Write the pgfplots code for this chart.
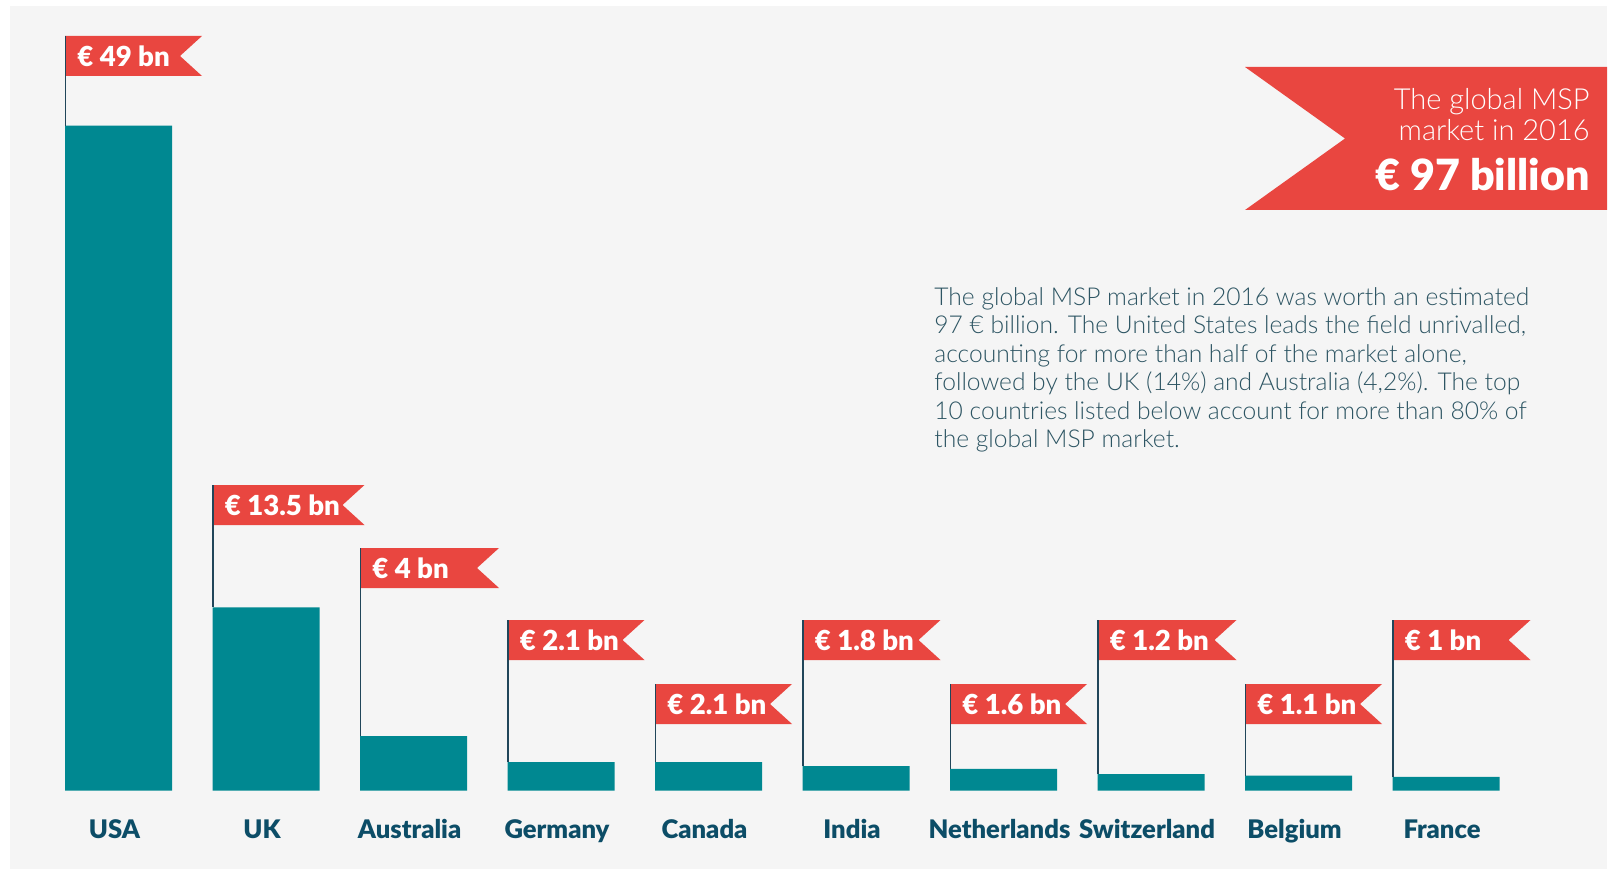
\documentclass[border=0pt]{standalone}
\usepackage{fontspec}
\setmainfont{Lato}
\newfontfamily\lightfont{Lato Light}
\newfontfamily\heavyfont{Lato Black}
\usepackage{pgfplots}
\pgfplotsset{compat=1.18}

\definecolor{bg}{HTML}{F5F5F5}
\definecolor{flagred}{HTML}{E94640}
\definecolor{barteal}{HTML}{008891}
\definecolor{labeldark}{HTML}{0C4D67}
\definecolor{bodytext}{HTML}{2D5563}
\definecolor{pole}{HTML}{21465A}

\begin{document}
\begin{tikzpicture}
% 1 px of the reference = 0.5pt
\fill[bg] (5pt,0) rectangle (803.5pt,431.5pt);

\begin{axis}[at={(0,0)},anchor=south west,scale only axis,
  width=804.5pt,height=434.5pt,
  xmin=-0.8034,xmax=10.1051,ymin=-5.784,ymax=58.25,
  axis line style={draw=none},major tick length=0pt,
  ybar=0pt,bar width=53.5pt,
  ytick=\empty,xtick=data,
  xticklabels={USA,UK,Australia,Germany,Canada,India,Netherlands,Switzerland,Belgium,France},
  xticklabel style={font=\heavyfont\fontsize{12.8}{12.8}\selectfont,text=labeldark,anchor=base,yshift=15.3pt,xshift=-2pt},
  clip=false]
\addplot[fill=barteal,draw=none] coordinates {(0,49) (1,13.5) (2,4) (3,2.1) (4,2.1) (5,1.8) (6,1.6) (7,1.2) (8,1.1) (9,1)};
\end{axis}

\begin{scope}[shift={(0pt,434.5pt)},x=0.5pt,y=-0.5pt]
% flags: index / label / flag top / flag width / value
\foreach \i/\t/\top/\w/\v in {0/49/36/137/49,1/13.5/485/152/13.5,2/4/548/139/4,3/2.1/620/137/2.1,4/2.1/684/137/2.1,5/1.8/620/138/1.8,6/1.6/684/137/1.6,7/1.2/620/139/1.2,8/1.1/684/137/1.1,9/1/620/138/1}{
  \pgfmathsetmacro\L{65+147.5*\i}
  \pgfmathsetmacro\B{790.5-13.571*\v}
  \fill[flagred] (\L,\top) -- ++(\w,0) -- ++(-22,20) -- ++(22,20) -- ++(-\w,0) -- cycle;
  \draw[pole,line width=0.75pt] (\L+0.5,\top) -- (\L+0.5,\B);
  \node[anchor=base west,inner sep=0,text=white,font=\heavyfont\fontsize{13.8}{13.8}\selectfont] at (\L+12,\top+30.5) {€ \t\ bn};
}
% banner
\fill[flagred] (1245,67) -- (1607,67) -- (1607,210) -- (1245,210) -- (1345,138.5) -- cycle;
\node[anchor=base east,inner sep=0,text=white,font=\lightfont\fontsize{14.5}{14.5}\selectfont] at (1590,110) {The global MSP};
\node[anchor=base east,inner sep=0,text=white,font=\lightfont\fontsize{14.5}{14.5}\selectfont] at (1590,141) {market in 2016};
\node[anchor=base east,inner sep=0,text=white,font=\heavyfont\fontsize{21.5}{21.5}\selectfont] at (1590,191) {€ 97 billion};
% paragraph
\foreach \n/\s in {0/{The global MSP market in 2016 was worth an estimated},
  1/{97 € billion. The United States leads the field unrivalled,},
  2/{accounting for more than half of the market alone,},
  3/{followed by the UK (14\%) and Australia (4,2\%). The top},
  4/{10 countries listed below account for more than 80\% of},
  5/{the global MSP market.}}{
  \node[anchor=base west,inner sep=0,text=bodytext,font=\lightfont\fontsize{12.3}{12.3}\selectfont] at (934,305+28.5*\n) {\s};
}
\end{scope}
\pgfresetboundingbox
\useasboundingbox (0,0) rectangle (804.5pt,434.5pt);
\end{tikzpicture}
\end{document}
